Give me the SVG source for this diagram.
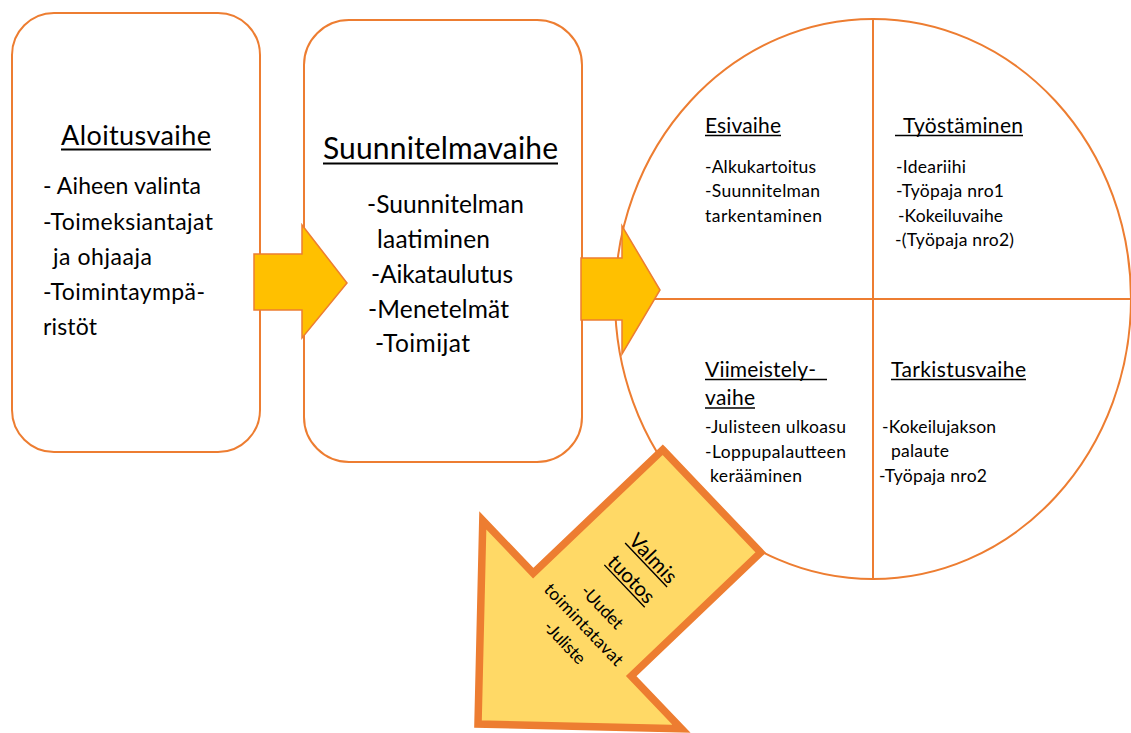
<svg xmlns="http://www.w3.org/2000/svg" width="1131" height="733" viewBox="0 0 1131 733">
<defs>
<style>
.box{fill:#ffffff;stroke:#ED7D31;stroke-width:2}
.ln{stroke:#ED7D31;stroke-width:2;fill:none}
.arr{fill:#FFC000;stroke:#ED7D31;stroke-width:1.5;stroke-linejoin:miter}
.big{fill:#FFD966;stroke:#ED7D31;stroke-width:7.5;stroke-linejoin:miter}
text{font-family:Lato,"Open Sans","Liberation Sans",sans-serif;fill:#000000}
.t1{font-size:27px}
.i1{font-size:23px}
.t2{font-size:30px}
.i2{font-size:24.5px}
.tc{font-size:21px}
.ic{font-size:17.5px}
.ta{font-size:20.5px}
.ia{font-size:17.5px}
.ul{stroke:#000000;stroke-width:1.8}
.ul2{stroke:#000000;stroke-width:1.4}
</style>
</defs>
<rect width="1131" height="733" fill="#ffffff"/>

<g id="aloitusvaihe">
<rect class="box" x="12" y="13" width="248" height="439" rx="42" ry="42"/>
<text class="t1" x="61" y="145" textLength="150">Aloitusvaihe</text>
<line class="ul" x1="61" y1="149.5" x2="211" y2="149.5"/>
<text class="i1" x="43" y="194" textLength="158">- Aiheen valinta</text>
<text class="i1" x="43" y="230" textLength="170">-Toimeksiantajat</text>
<text class="i1" x="53" y="265" textLength="99">ja ohjaaja</text>
<text class="i1" x="43" y="300" textLength="162">-Toimintaympä-</text>
<text class="i1" x="43" y="335" textLength="54">ristöt</text>
</g>

<g id="suunnitelmavaihe">
<rect class="box" x="304" y="20" width="278" height="442" rx="45" ry="45"/>
<text class="t2" x="323" y="159" textLength="235">Suunnitelmavaihe</text>
<line class="ul" x1="323" y1="163.5" x2="558" y2="163.5"/>
<text class="i2" x="367" y="213" textLength="157">-Suunnitelman</text>
<text class="i2" x="377" y="248" textLength="113">laatiminen</text>
<text class="i2" x="371" y="283" textLength="142">-Aikataulutus</text>
<text class="i2" x="368" y="318" textLength="141">-Menetelmät</text>
<text class="i2" x="375" y="352" textLength="95">-Toimijat</text>
</g>

<g id="kehityssykli">
<ellipse class="box" cx="873" cy="299" rx="258" ry="280"/>
<line class="ln" x1="873" y1="19" x2="873" y2="579"/>
<line class="ln" x1="615" y1="299" x2="1131" y2="299"/>
</g>

<g id="esivaihe">
<text class="tc" x="705" y="133" textLength="76">Esivaihe</text>
<line class="ul2" x1="705" y1="135.5" x2="781" y2="135.5"/>
<text class="ic" x="705" y="173" textLength="111">-Alkukartoitus</text>
<text class="ic" x="705" y="197" textLength="115">-Suunnitelman</text>
<text class="ic" x="705" y="222" textLength="117">tarkentaminen</text>
</g>

<g id="tyostaminen">
<text class="tc" x="903" y="133" textLength="120">Työstäminen</text>
<line class="ul2" x1="895" y1="135.5" x2="1023" y2="135.5"/>
<text class="ic" x="896" y="173" textLength="70">-Ideariihi</text>
<text class="ic" x="896" y="197" textLength="108">-Työpaja nro1</text>
<text class="ic" x="898" y="222" textLength="105">-Kokeiluvaihe</text>
<text class="ic" x="895" y="246" textLength="119">-(Työpaja nro2)</text>
</g>

<g id="viimeistelyvaihe">
<text class="tc" x="705" y="377" textLength="111">Viimeistely-</text>
<line class="ul2" x1="705" y1="379.5" x2="827" y2="379.5"/>
<text class="tc" x="705" y="405" textLength="50">vaihe</text>
<line class="ul2" x1="705" y1="408" x2="755" y2="408"/>
<text class="ic" x="705" y="433" textLength="141">-Julisteen ulkoasu</text>
<text class="ic" x="705" y="458" textLength="141">-Loppupalautteen</text>
<text class="ic" x="710" y="482" textLength="92">kerääminen</text>
</g>

<g id="tarkistusvaihe">
<text class="tc" x="891" y="377" textLength="135">Tarkistusvaihe</text>
<line class="ul2" x1="891" y1="379.5" x2="1026" y2="379.5"/>
<text class="ic" x="882" y="433" textLength="114">-Kokeilujakson</text>
<text class="ic" x="891" y="457" textLength="58">palaute</text>
<text class="ic" x="879" y="482" textLength="108">-Työpaja nro2</text>
</g>

<g id="connectors">
<polygon class="arr" points="254,254 302,254 302,225 347,283 302,338 302,310 254,310"/>
<polygon class="arr" points="581,258 622,258 622,226 660,290 622,354 622,320 581,320"/>
</g>

<g id="valmis-tuotos">
<polygon class="big" points="662.7,449.7 760.7,552.5 631.2,676 681.6,728.8 478,724 482.8,520.4 533.2,573.2"/>
<g transform="translate(582.2,624.6) rotate(46.4)">
<text class="ta" x="1" y="-90" text-anchor="middle" textLength="60">Valmis</text>
<line class="ul2" x1="-29.5" y1="-87.4" x2="31.3" y2="-87.4"/>
<text class="ta" x="1" y="-60" text-anchor="middle" textLength="58">tuotos</text>
<line class="ul2" x1="-28" y1="-57.2" x2="30.6" y2="-57.2"/>
<text class="ia" x="1" y="-20.5" text-anchor="middle" textLength="53">-Uudet</text>
<text class="ia" x="1" y="4.7" text-anchor="middle" textLength="106">toimintatavat</text>
<text class="ia" x="1" y="31" text-anchor="middle" textLength="52">-Juliste</text>
</g>
</g>
</svg>
